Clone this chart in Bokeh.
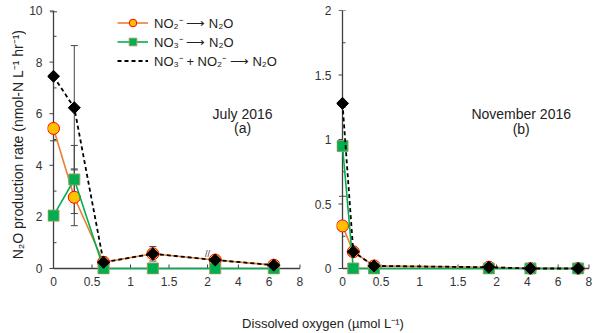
import math
import numpy as np
from bokeh.plotting import figure
from bokeh.layouts import column, row
from bokeh.models import (Range1d, FixedTicker, Whisker, TeeHead, ColumnDataSource,
                          Legend, LegendItem, Label)
from bokeh.embed import file_html
from bokeh.resources import INLINE

# ---------------- data ----------------
# July 2016 (a)
jul_do = [0, 0.27, 0.65, 1.29, 2.5, 6.3]
jul_no2 = [5.43, 2.76, 0.24, 0.57, 0.33, 0.13]
jul_no3 = [2.05, 3.45, 0, 0, 0, 0]
jul_sum = [7.45, 6.23, 0.24, 0.57, 0.33, 0.13]
jul_no2_err = [0, 1.10, 0, 0, 0, 0]
jul_no3_err = [0, 1.32, 0, 0, 0, 0]
jul_sum_err = [2.5, 2.41, 0.2, 0.28, 0, 0]

# November 2016 (b)
nov_do = [0, 0.14, 0.41, 1.9, 4.2, 7.3]
nov_no2 = [0.33, 0.13, 0.02, 0.01, 0, 0]
nov_no3 = [0.95, 0, 0, 0, 0, 0]
nov_sum = [1.28, 0.13, 0.02, 0.01, 0, 0]
nov_no2_err = [0, 0, 0, 0, 0, 0]
nov_no3_err = [0, 0, 0, 0, 0, 0]
nov_sum_err = [0.72, 0, 0, 0, 0, 0]

x_ticks = [0, 0.5, 1, 1.5, 2, 4, 6, 8]
x_tick_labels = ["0", "0.5", "1", "1.5", "2", "4", "6", "8"]

jul_y_ticks = [0, 2, 4, 6, 8, 10]
jul_y_minor = [1, 3, 5, 7, 9]
nov_y_ticks = [0, 0.5, 1, 1.5, 2]
nov_y_minor = [0.25, 0.75, 1.25, 1.75]

labels = ["NO\u2082\u207b \u27f6 N\u2082O",
          "NO\u2083\u207b \u27f6 N\u2082O",
          "NO\u2083\u207b + NO\u2082\u207b \u27f6 N\u2082O"]
y_title = "N\u2082O production rate (nmol-N L\u207b\u00b9 hr\u207b\u00b9)"
x_title = "Dissolved oxygen (\u00b5mol L\u207b\u00b9)"

# broken x axis: linear up to 2, compressed beyond
BREAK = 2.0
COMPRESS = 0.2


def tx(v):
    return v if v <= BREAK else round(BREAK + (v - BREAK) * COMPRESS, 4)


FONT = "Liberation Sans"
TXT = "#333333"
AX = "#404040"
ERR = "#444444"

ORANGE = "#ED7D31"
GOLD = "#FFC000"
RED = "#FF0000"
GREEN = "#00B050"
OLIVE = "#9A9A60"

FRAME_W = 254
FRAME_H = 264
TOP = 10
BOTTOM = 29
PADPX = 6
X_END = 3.22
FIG_H = TOP + FRAME_H + BOTTOM


def panel(do, no2, no3, s, e2, e3, es, y_end, yt, ym, lb, rb, title, sub,
          t_xy, legend=False, break_mark=False):
    xs = [tx(v) for v in do]
    xpad = X_END * PADPX / (FRAME_W - PADPX)
    ypad = y_end * PADPX / (FRAME_H - PADPX)
    p = figure(width=lb + FRAME_W + rb, height=FIG_H,
               x_range=Range1d(-xpad, X_END), y_range=Range1d(-ypad, y_end),
               toolbar_location=None, output_backend="svg",
               min_border_left=lb, min_border_right=rb,
               min_border_top=TOP, min_border_bottom=BOTTOM)
    p.outline_line_color = None
    p.grid.visible = False
    p.background_fill_color = "white"
    p.border_fill_color = "white"

    xa = p.xaxis[0]
    xa.ticker = FixedTicker(ticks=[tx(v) for v in x_ticks], minor_ticks=[])
    xa.major_label_overrides = {tx(v): l for v, l in zip(x_ticks, x_tick_labels)}
    xa.major_label_standoff = 2
    ya = p.yaxis[0]
    ya.ticker = FixedTicker(ticks=yt, minor_ticks=[])
    ya.major_label_standoff = 5
    for a in (xa, ya):
        a.axis_line_color = None
        a.major_tick_line_color = None
        a.minor_tick_line_color = None
        a.major_tick_in = 0
        a.major_tick_out = 0
        a.minor_tick_in = 0
        a.minor_tick_out = 0
        a.major_label_text_font = FONT
        a.major_label_text_font_size = "12px"
        a.major_label_text_color = TXT

    # axis lines at data zero, with their ticks
    p.segment(x0=[0, 0], y0=[0, 0], x1=[0, tx(x_ticks[-1])], y1=[y_end, 0],
              line_color=AX, line_width=1.3)
    p.ray(x=[0] * len(yt), y=yt, length=4, angle=math.pi, length_units="screen",
          line_color=AX, line_width=1)
    p.ray(x=[0] * len(ym), y=ym, length=3, angle=0, length_units="screen",
          line_color=AX, line_width=1)
    p.ray(x=[tx(v) for v in x_ticks], y=[0] * len(x_ticks), length=4, angle=math.pi / 2,
          length_units="screen", line_color=AX, line_width=1)

    # error bars
    for vals, errs in ((no2, e2), (no3, e3), (s, es)):
        bx = [x for x, e in zip(xs, errs) if e > 0]
        up = [v + e for v, e in zip(vals, errs) if e > 0]
        lo = [v - e for v, e in zip(vals, errs) if e > 0]
        if bx:
            src = ColumnDataSource(dict(x=bx, upper=up, lower=lo))
            p.add_layout(Whisker(source=src, base="x", upper="upper", lower="lower",
                                 line_color=ERR, line_width=1,
                                 upper_head=TeeHead(size=7, line_color=ERR, line_width=1),
                                 lower_head=TeeHead(size=7, line_color=ERR, line_width=1)))

    l1 = p.line(xs, no2, line_color=ORANGE, line_width=1.6)
    m1 = p.scatter(xs, no2, marker="circle", size=12, fill_color=GOLD,
                   line_color=RED, line_width=1)
    l2 = p.line(xs, no3, line_color=GREEN, line_width=1.6)
    m2 = p.scatter(xs, no3, marker="square", size=11, fill_color=GREEN,
                   line_color=OLIVE, line_width=1)
    l3 = p.line(xs, s, line_color="black", line_width=1.8, line_dash="4 3")
    m3 = p.scatter(xs, s, marker="square", angle=math.pi / 4, size=8.5,
                   fill_color="black", line_color="black")

    if break_mark:
        yb = float(np.interp(BREAK, xs, s))
        p.add_layout(Label(x=BREAK, y=yb, text="//", text_font=FONT, text_font_size="9px",
                           text_color="#333333", text_align="center",
                           text_baseline="bottom"))

    p.add_layout(Label(x=t_xy[0], y=t_xy[1], text=title, text_font=FONT,
                       text_font_size="14px", text_color="#222222",
                       text_align="center", text_baseline="middle"))
    p.add_layout(Label(x=t_xy[0], y=t_xy[2], text=sub, text_font=FONT,
                       text_font_size="14px", text_color="#222222",
                       text_align="center", text_baseline="middle"))

    if legend:
        m3_leg = p.scatter(x=[], y=[], marker="diamond", fill_color="black",
                           line_color="black")
        leg = Legend(items=[LegendItem(label=labels[0], renderers=[l1, m1]),
                            LegendItem(label=labels[1], renderers=[l2, m2]),
                            LegendItem(label=labels[2], renderers=[l3, m3_leg])],
                     location=(70, FRAME_H - 60), orientation="vertical")
        leg.glyph_width = 31
        leg.glyph_height = 19
        leg.label_height = 19
        leg.spacing = 0
        leg.padding = 0
        leg.margin = 0
        leg.label_standoff = 6
        leg.label_text_font = FONT
        leg.label_text_font_size = "13px"
        leg.label_text_color = "#222222"
        leg.background_fill_alpha = 0
        leg.border_line_color = None
        p.add_layout(leg)
    return p


p1 = panel(jul_do, jul_no2, jul_no3, jul_sum, jul_no2_err, jul_no3_err, jul_sum_err,
           10, jul_y_ticks, jul_y_minor, 21, 10, "July 2016", "(a)",
           (2.455, 6.0, 5.43), legend=True, break_mark=True)
p2 = panel(nov_do, nov_no2, nov_no3, nov_sum, nov_no2_err, nov_no3_err, nov_sum_err,
           2, nov_y_ticks, nov_y_minor, 25, 10, "November 2016", "(b)",
           (2.32, 1.20, 1.085))

# y-axis title strip
p0 = figure(width=26, height=FIG_H, x_range=Range1d(0, 26), y_range=Range1d(FIG_H, 0),
            toolbar_location=None, output_backend="svg",
            x_axis_location=None, y_axis_location=None, min_border=0)
p0.outline_line_color = None
p0.grid.visible = False
p0.add_layout(Label(x=17, y=154, text=y_title, angle=math.pi / 2, text_font=FONT,
                    text_font_size="14px", text_color="#222222",
                    text_align="center", text_baseline="middle"))

# shared x-axis title strip
LAB_H = 29
p3 = figure(width=600, height=LAB_H, x_range=Range1d(0, 600), y_range=Range1d(LAB_H, 0),
            toolbar_location=None, output_backend="svg",
            x_axis_location=None, y_axis_location=None, min_border=0)
p3.outline_line_color = None
p3.grid.visible = False
p3.add_layout(Label(x=322.5, y=20, text=x_title,
                    text_font=FONT, text_font_size="13px", text_color="#222222",
                    text_align="center", text_baseline="middle"))

layout = column(row(p0, p1, p2), p3)
open("out.html", "w").write(file_html(layout, INLINE))
